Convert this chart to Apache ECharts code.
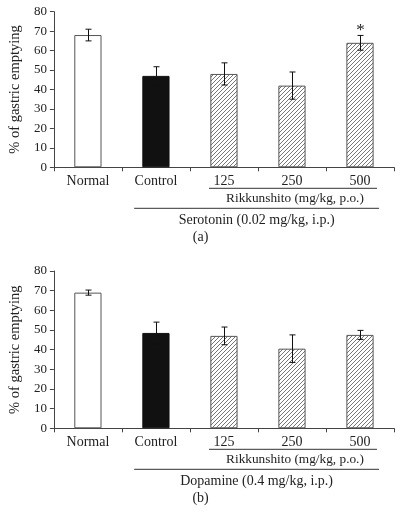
<!DOCTYPE html>
<html><head><meta charset="utf-8">
<script src="https://cdn.jsdelivr.net/npm/echarts@6/dist/echarts.min.js"></script>
<style>html,body{margin:0;padding:0;background:#fff}#c{width:404px;height:518px}</style>
</head><body><div id="c"></div>
<script>
const categories = ['Normal', 'Control', '125', '250', '500'];
const valuesA = [68, 47, 48, 42, 64];
const errorsA = [3, 4.7, 5.7, 7, 3.8];
const marksA = ['', '', '', '', '*'];
const valuesB = [69, 48.5, 47, 40.5, 47.5];
const errorsB = [1.3, 5.5, 4.5, 7, 2.3];
const marksB = ['', '', '', '', ''];
const yMin = 0, yMax = 80, yStep = 10;
const yLabel = '% of gastric emptying';
const subLabel = 'Rikkunshito (mg/kg, p.o.)';
const groupA = 'Serotonin (0.02 mg/kg, i.p.)';
const groupB = 'Dopamine (0.4 mg/kg, i.p.)';
const panelA = '(a)', panelB = '(b)';

const FONT = '"Liberation Serif", "DejaVu Serif", serif';
const INK = '#222';

function hatch() {
  const c = document.createElement('canvas');
  c.width = 4; c.height = 4;
  const g = c.getContext('2d');
  g.fillStyle = '#fff'; g.fillRect(0, 0, 4, 4);
  g.strokeStyle = '#666'; g.lineWidth = 0.9;
  g.beginPath();
  g.moveTo(0, 4); g.lineTo(4, 0);
  g.moveTo(-1, 1); g.lineTo(1, -1);
  g.moveTo(3, 5); g.lineTo(5, 3);
  g.stroke();
  return c;
}
const hatchImg = hatch();

function styleFor(i) {
  if (i === 0) return { color: '#fff', borderColor: '#555', borderWidth: 1 };
  if (i === 1) return { color: '#111', borderColor: '#111', borderWidth: 1 };
  return { color: { image: hatchImg, repeat: 'repeat' }, borderColor: '#555', borderWidth: 1 };
}

const grids = [
  { left: 50, right: 10, top: 11.7, bottom: 518 - 167.3 },
  { left: 50, right: 10, top: 271, bottom: 518 - 428.3 }
];

function xAxis(gi) {
  return {
    type: 'category', gridIndex: gi, data: categories,
    axisLine: { lineStyle: { color: '#444', width: 1 } },
    axisTick: { show: true, length: 4, lineStyle: { color: '#444' } },
    axisLabel: { color: INK, fontFamily: FONT, fontSize: 14, margin: 7 }
  };
}
function yAxis(gi) {
  return {
    type: 'value', gridIndex: gi, min: yMin, max: yMax, interval: yStep,
    name: yLabel, nameLocation: 'middle', nameGap: 30,
    nameTextStyle: { color: INK, fontFamily: FONT, fontSize: 14.5 },
    axisLine: { show: true, lineStyle: { color: '#444', width: 1 } },
    axisTick: { show: true, length: 4, lineStyle: { color: '#444' } },
    axisLabel: { color: INK, fontFamily: FONT, fontSize: 13, margin: 7 },
    splitLine: { show: false }
  };
}

function barSeries(gi, vals) {
  return {
    type: 'bar', xAxisIndex: gi, yAxisIndex: gi, barWidth: '40%',
    data: vals.map((v, i) => ({ value: v, itemStyle: styleFor(i) })),
    z: 2, silent: true
  };
}
function errSeries(gi, vals, errs, marks) {
  return {
    type: 'custom', xAxisIndex: gi, yAxisIndex: gi, z: 5, silent: true,
    data: vals.map((v, i) => [i, v - errs[i], v + errs[i], marks[i]]),
    renderItem: function (params, api) {
      const i = api.value(0);
      const lo = api.coord([i, api.value(1)]);
      const hi = api.coord([i, api.value(2)]);
      const x = Math.round(lo[0]) + 0.5;
      const w = 3;
      const children = [
        { type: 'line', shape: { x1: x, y1: lo[1], x2: x, y2: hi[1] }, style: { stroke: '#111', lineWidth: 1 } },
        { type: 'line', shape: { x1: x - w, y1: hi[1], x2: x + w, y2: hi[1] }, style: { stroke: '#111', lineWidth: 1 } },
        { type: 'line', shape: { x1: x - w, y1: lo[1], x2: x + w, y2: lo[1] }, style: { stroke: '#111', lineWidth: 1 } }
      ];
      const m = marks[i];
      if (m) {
        children.push({ type: 'text', x: x, y: hi[1] + 4, style: { text: m, fill: INK, font: '17px ' + FONT, align: 'center', verticalAlign: 'bottom' } });
      }
      return { type: 'group', children: children };
    }
  };
}

const chart = echarts.init(document.getElementById('c'), null, { renderer: 'canvas' });
chart.setOption({
  animation: false,
  backgroundColor: '#fff',
  grid: grids,
  xAxis: [xAxis(0), xAxis(1)],
  yAxis: [yAxis(0), yAxis(1)],
  series: [
    barSeries(0, valuesA), errSeries(0, valuesA, errorsA, marksA),
    barSeries(1, valuesB), errSeries(1, valuesB, errorsB, marksB)
  ]
});

function annotations(gi, group, panel) {
  const px = i => chart.convertToPixel({ xAxisIndex: gi }, i);
  const y0 = chart.convertToPixel({ yAxisIndex: gi }, 0);
  const c1 = px(1), c2 = px(2), c4 = px(4);
  const band = px(1) - px(0);
  const l1 = y0 + 21, l2 = y0 + 41;
  const txt = (x, y, s, f) => ({ type: 'text', x: x, y: y, style: { text: s, fill: INK, font: (f || 14) + 'px ' + FONT, align: 'center', verticalAlign: 'middle' } });
  const line = (x1, x2, y) => ({ type: 'line', shape: { x1: x1, y1: y, x2: x2, y2: y }, style: { stroke: '#333', lineWidth: 1 } });
  const s1 = c2 - 0.22 * band, s2 = c4 + 0.25 * band;
  const g1 = c1 - 0.32 * band, g2 = c4 + 0.28 * band;
  return [
    line(s1, s2, l1),
    txt((s1 + s2) / 2 + 2, l1 + 10.5, subLabel, 13.3),
    line(g1, g2, l2),
    txt((g1 + g2) / 2, l2 + 12, group),
    txt((g1 + g2) / 2 - 56, l2 + 29, panel)
  ];
}
chart.setOption({
  graphic: [].concat(annotations(0, groupA, panelA), annotations(1, groupB, panelB))
});
</script>
</body></html>
